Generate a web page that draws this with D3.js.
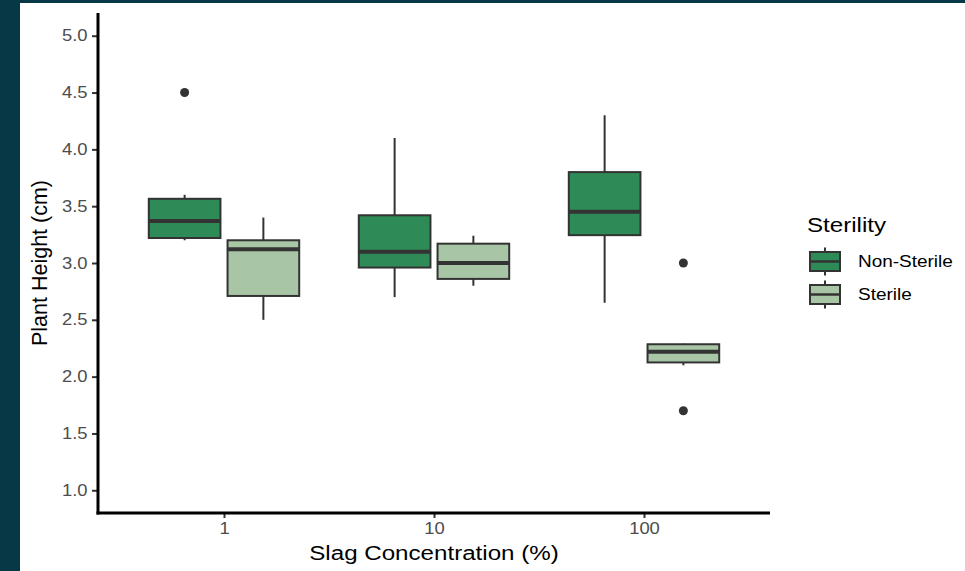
<!DOCTYPE html>
<html>
<head>
<meta charset="utf-8">
<script src="https://cdn.jsdelivr.net/npm/d3@7"></script>
<style>
html,body{margin:0;padding:0;background:#063846;}
svg{display:block;}
text{font-family:"Liberation Sans",Arial,sans-serif;}
</style>
</head>
<body>
<svg id="chart" width="965" height="571"></svg>
<script>
const concentrations = ["1", "10", "100"];
const sterility = ["Non-Sterile", "Sterile"];
const colors = ["#2e8b57", "#a8c5a5"];
const yTicks = [1.0, 1.5, 2.0, 2.5, 3.0, 3.5, 4.0, 4.5, 5.0];
// per concentration: [lowerWhisker, q1, median, q3, upperWhisker]
const nonSterileStats = [
  [3.2, 3.22, 3.37, 3.565, 3.6],
  [2.7, 2.96, 3.1, 3.42, 4.1],
  [2.65, 3.245, 3.45, 3.8, 4.3]
];
const sterileStats = [
  [2.5, 2.71, 3.12, 3.2, 3.4],
  [2.8, 2.86, 3.0, 3.17, 3.24],
  [2.1, 2.125, 2.22, 2.285, 2.29]
];
const nonSterileOutliers = [[4.5], [], []];
const sterileOutliers = [[], [], [3.0, 1.7]];

const SX = 1.15; // horizontal stretch of the text in the reference
const svg = d3.select("#chart");
const W = 965, H = 571;
svg.append("rect").attr("x", 0).attr("y", 0).attr("width", W).attr("height", H).attr("fill", "#063846");
svg.append("rect").attr("x", 20).attr("y", 3).attr("width", W - 20).attr("height", H - 3).attr("fill", "#ffffff");

const pLeft = 98, pRight = 770, pTop = 13, pBottom = 513;
const x = d3.scalePoint().domain(concentrations).range([pLeft, pRight]).padding(0.6);
const step = x.step();
const xs = d3.scaleBand().domain(sterility).range([-step * 0.375, step * 0.375]).paddingInner(0.09).paddingOuter(0.045);
const y = d3.scaleLinear().domain([0.8, 5.2]).range([pBottom, pTop]);

const groups = [];
concentrations.forEach((c, i) => {
  groups.push({c, s: sterility[0], stats: nonSterileStats[i], out: nonSterileOutliers[i], color: colors[0]});
  groups.push({c, s: sterility[1], stats: sterileStats[i], out: sterileOutliers[i], color: colors[1]});
});

const g = svg.append("g");
groups.forEach(d => {
  const x0 = x(d.c) + xs(d.s);
  const bw = xs.bandwidth();
  const cx = x0 + bw / 2;
  const [lo, q1, med, q3, hi] = d.stats;
  g.append("line").attr("x1", cx).attr("x2", cx).attr("y1", y(hi)).attr("y2", y(q3)).attr("stroke", "#333").attr("stroke-width", 2);
  g.append("line").attr("x1", cx).attr("x2", cx).attr("y1", y(q1)).attr("y2", y(lo)).attr("stroke", "#333").attr("stroke-width", 2);
  g.append("rect").attr("x", x0).attr("y", y(q3)).attr("width", bw).attr("height", y(q1) - y(q3))
    .attr("fill", d.color).attr("stroke", "#333").attr("stroke-width", 2);
  g.append("line").attr("x1", x0).attr("x2", x0 + bw).attr("y1", y(med)).attr("y2", y(med)).attr("stroke", "#333").attr("stroke-width", 4);
  d.out.forEach(o => {
    g.append("circle").attr("cx", cx).attr("cy", y(o)).attr("r", 4.5).attr("fill", "#333");
  });
});

const yAxis = svg.append("g").attr("transform", `translate(${pLeft},0)`)
  .call(d3.axisLeft(y).tickValues(yTicks).tickFormat(d3.format(".1f")).tickSize(6).tickPadding(4));
const xAxis = svg.append("g").attr("transform", `translate(0,${pBottom})`)
  .call(d3.axisBottom(x).tickSize(5).tickPadding(5));
[yAxis, xAxis].forEach(a => {
  a.select(".domain").remove();
  a.selectAll(".tick line").attr("stroke", "#333").attr("stroke-width", 2);
  a.selectAll(".tick text").attr("fill", "#4d4d4d").style("font-size", "16px")
    .style("font-family", "Liberation Sans, Arial, sans-serif");
});
yAxis.selectAll(".tick text").attr("x", -10.5 / SX).attr("transform", `scale(${SX},1)`);
xAxis.selectAll(".tick text").attr("transform", `scale(${SX},1)`);

svg.append("line").attr("x1", pLeft).attr("x2", pLeft).attr("y1", pTop).attr("y2", pBottom + 1.5).attr("stroke", "#000").attr("stroke-width", 3);
svg.append("line").attr("x1", pLeft - 1.5).attr("x2", pRight).attr("y1", pBottom).attr("y2", pBottom).attr("stroke", "#000").attr("stroke-width", 3);

svg.append("text").attr("transform", `translate(${(pLeft + pRight) / 2},560) scale(${SX},1)`).attr("text-anchor", "middle")
  .style("font-size", "21px").attr("fill", "#000").text("Slag Concentration (%)");
svg.append("text").attr("transform", `translate(47,${(pTop + pBottom) / 2}) rotate(-90)`).attr("text-anchor", "middle")
  .style("font-size", "21.5px").attr("fill", "#000").text("Plant Height (cm)");

const lg = svg.append("g").attr("transform", "translate(807,0)");
lg.append("text").attr("transform", `translate(0,232) scale(${SX},1)`).style("font-size", "21px").attr("fill", "#000").text("Sterility");
sterility.forEach((s, i) => {
  const cy = 261.5 + i * 33;
  lg.append("line").attr("x1", 18).attr("x2", 18).attr("y1", cy - 14).attr("y2", cy + 14).attr("stroke", "#333").attr("stroke-width", 2);
  lg.append("rect").attr("x", 3).attr("y", cy - 9.5).attr("width", 30).attr("height", 19).attr("fill", colors[i]).attr("stroke", "#333").attr("stroke-width", 2);
  lg.append("line").attr("x1", 3).attr("x2", 33).attr("y1", cy).attr("y2", cy).attr("stroke", "#333").attr("stroke-width", 2.5);
  lg.append("text").attr("transform", `translate(51,${cy}) scale(${SX},1)`).attr("dy", "0.36em").style("font-size", "16.5px").attr("fill", "#000").text(s);
});
</script>
</body>
</html>
